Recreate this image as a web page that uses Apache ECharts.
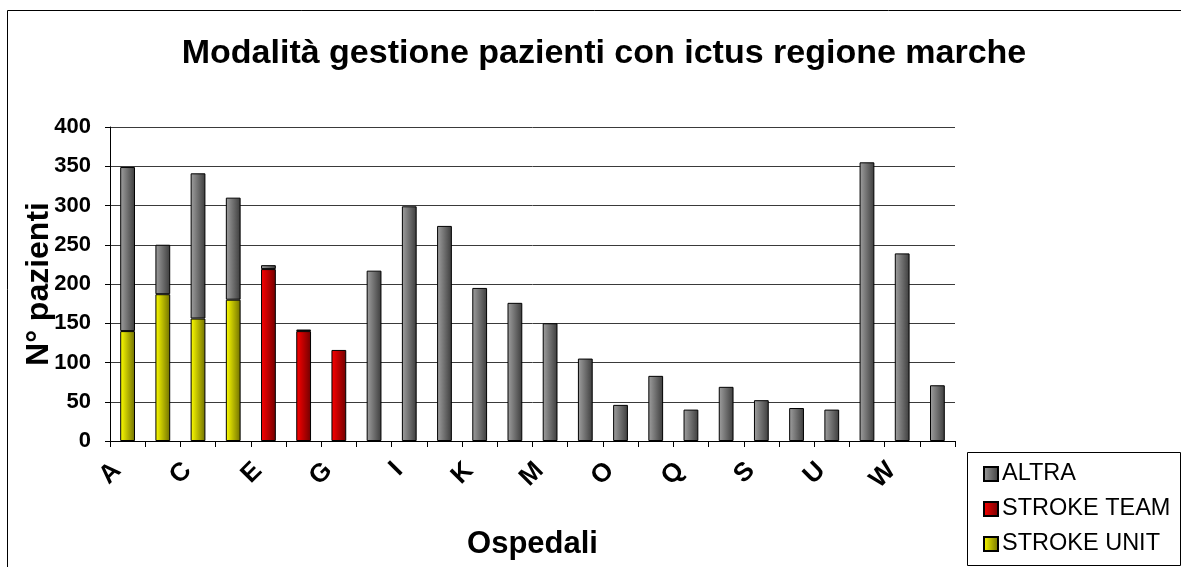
<!DOCTYPE html>
<html>
<head>
<meta charset="utf-8">
<script src="https://cdn.jsdelivr.net/npm/echarts@6/dist/echarts.min.js"></script>
<style>
html,body{margin:0;padding:0;background:#fff;}
#chart{width:1181px;height:567px;}
</style>
</head>
<body>
<div id="chart"></div>
<script>
const categories = ['A','B','C','D','E','F','G','H','I','J','K','L','M','N','O','P','Q','R','S','T','U','V','W','X'];
const strokeUnit = [140,187,156,180,null,null,null,null,null,null,null,null,null,null,null,null,null,null,null,null,null,null,null,null];
const strokeTeam = [null,null,null,null,219,140,116,null,null,null,null,null,null,null,null,null,null,null,null,null,null,null,null,null];
const altra = [209,63,185,130,5,2,null,217,299,274,195,176,150,105,46,83,40,69,52,42,40,355,239,71];
const yTicks = {min:0, max:400, interval:50};
const seriesNames = ['ALTRA','STROKE TEAM','STROKE UNIT'];

function grad(c1, c2){
  return new echarts.graphic.LinearGradient(0,0,1,0,[{offset:0,color:c1},{offset:1,color:c2}]);
}
const font = '"Liberation Sans", Arial, sans-serif';
const chart = echarts.init(document.getElementById('chart'), null, {renderer:'canvas'});
const barStyle = (c1,c2)=>({color:grad(c1,c2), borderColor:'#000', borderWidth:1});
chart.setOption({
  animation:false,
  backgroundColor:'#fff',
  textStyle:{fontFamily:font},
  title:{
    text:'Modalità gestione pazienti con ictus regione marche',
    left:599, top:32, textAlign:'center',
    textStyle:{fontFamily:font, fontSize:34, fontWeight:'bold', color:'#000'}
  },
  graphic:[{
    type:'rect', shape:{x:7.5,y:10.5,width:1300,height:700},
    style:{fill:null, stroke:'#000', lineWidth:1}, silent:true, z:-1
  },{
    type:'rect', shape:{x:967.5,y:452.5,width:213,height:113},
    style:{fill:'#fff', stroke:'#000', lineWidth:1}, silent:true, z:0
  }],
  legend:{
    data:seriesNames, orient:'vertical', left:983, top:462, padding:0,
    itemWidth:14, itemHeight:14, itemGap:11, icon:'rect',
    textStyle:{fontFamily:font, fontSize:23.5, color:'#000', lineHeight:22, padding:[0,0,0,-1]},
    z:5
  },
  grid:{left:110, right:226, top:127, bottom:126},
  xAxis:{
    type:'category', data:categories, boundaryGap:true,
    name:'Ospedali', nameLocation:'middle', nameGap:88, nameMoveOverlap:false,
    nameTextStyle:{fontFamily:font, fontSize:31, fontWeight:'bold', color:'#000'},
    axisLine:{lineStyle:{color:'#000', width:1}},
    axisTick:{show:true, interval:0, length:6, lineStyle:{color:'#000'}},
    axisLabel:{interval:1, rotate:45, margin:15, fontFamily:font, fontSize:26, fontWeight:'bold', color:'#000', padding:[0,15,0,0]}
  },
  yAxis:{
    type:'value', min:yTicks.min, max:yTicks.max, interval:yTicks.interval,
    name:'N° pazienti', nameLocation:'middle', nameGap:55, nameRotate:90, nameMoveOverlap:false,
    nameTextStyle:{fontFamily:font, fontSize:32, fontWeight:'bold', color:'#000'},
    axisLine:{show:true, lineStyle:{color:'#000', width:1}},
    axisTick:{show:true, length:5, lineStyle:{color:'#000'}},
    axisLabel:{margin:19, fontFamily:font, fontSize:22, fontWeight:'bold', color:'#000'},
    splitLine:{show:true, lineStyle:{color:'#3a3a3a', width:1}}
  },
  series:[
    {name:'STROKE UNIT', type:'bar', stack:'tot', data:strokeUnit, barWidth:'42%', itemStyle:barStyle('#ffff00','#707000')},
    {name:'STROKE TEAM', type:'bar', stack:'tot', data:strokeTeam, barWidth:'42%', itemStyle:barStyle('#ff0000','#700000')},
    {name:'ALTRA', type:'bar', stack:'tot', data:altra, barWidth:'42%', itemStyle:barStyle('#a0a0a0','#3c3c3c')}
  ]
});
</script>
</body>
</html>
